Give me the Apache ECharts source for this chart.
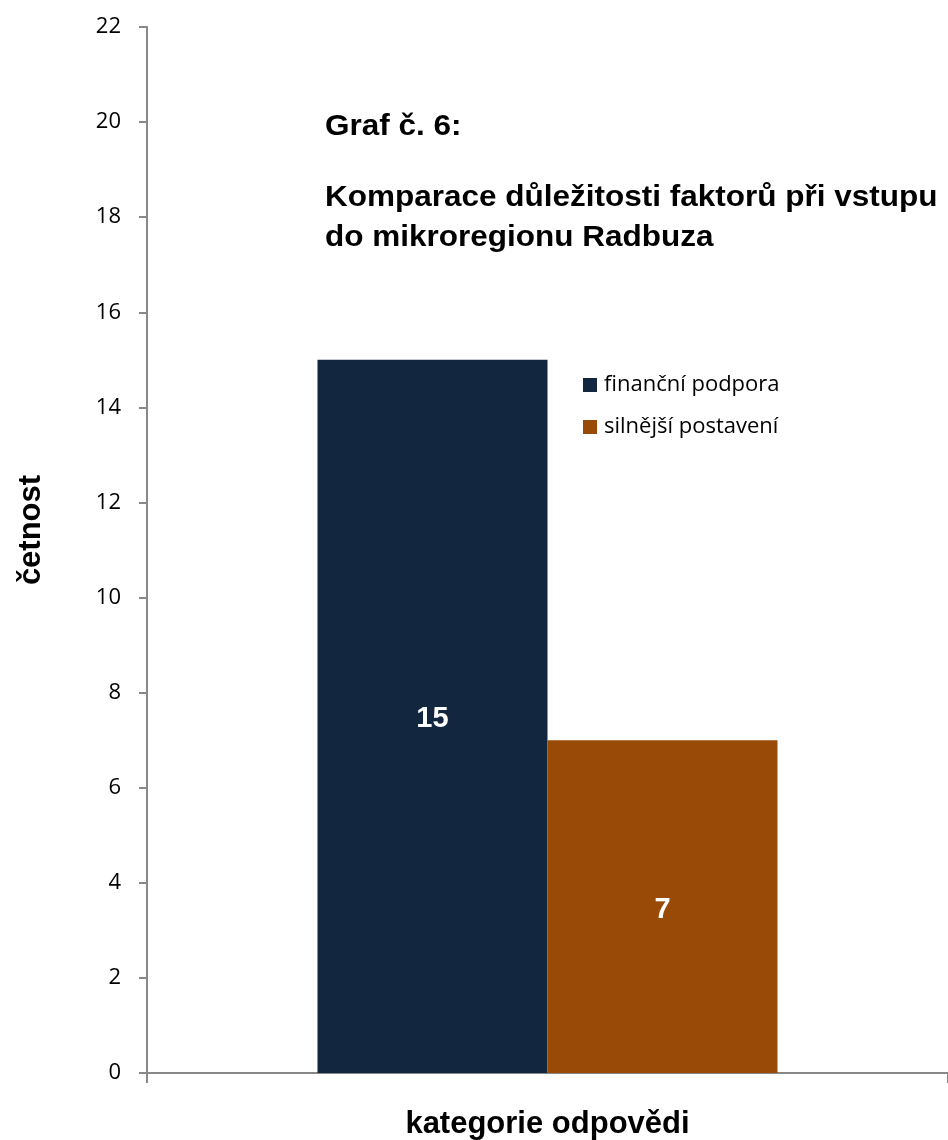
<!DOCTYPE html>
<html><head><meta charset="utf-8">
<script src="https://cdn.jsdelivr.net/npm/echarts@6/dist/echarts.min.js"></script>
<style>html,body{margin:0;padding:0;background:#fff}#c{width:948px;height:1140px}</style>
</head><body><div id="c"></div>
<script>
var categories = ['kategorie'];
var seriesNames = ['finanční podpora', 'silnější postavení'];
var financniPodpora = [15];
var silnejsiPostaveni = [7];
var yTicks = { min: 0, max: 22, interval: 2 };
var titleLines = ['Graf č. 6:', 'Komparace důležitosti faktorů při vstupu', 'do mikroregionu Radbuza'];

var chart = echarts.init(document.getElementById('c'));
var boldFont = '"Liberation Sans", Arial, sans-serif';
var lightFont = '"Open Sans", sans-serif';
var titleY = [127, 198, 238];
var option = {
  animation: false,
  backgroundColor: '#fff',
  graphic: titleLines.map(function (t, i) {
    return {
      type: 'text', x: 325, y: titleY[i], scaleX: 1.05, z: 100,
      style: { text: t, font: 'bold 30px "Liberation Sans", Arial, sans-serif', fill: '#000', align: 'left', verticalAlign: 'middle' }
    };
  }),
  legend: {
    orient: 'vertical', left: 578, top: 369, itemWidth: 14, itemHeight: 14, itemGap: 20,
    icon: 'rect',
    textStyle: { fontFamily: lightFont, fontSize: 22, color: '#000', padding: [0, 0, 0, 2] },
    data: seriesNames
  },
  grid: { left: 147, right: 0, top: 27, bottom: 67, outerBoundsMode: 'none', containLabel: false },
  xAxis: {
    type: 'category', data: categories,
    name: 'kategorie odpovědi', nameLocation: 'middle', nameGap: 36,
    nameTextStyle: { fontFamily: boldFont, fontWeight: 'bold', fontSize: 31, color: '#000' },
    axisLine: { lineStyle: { color: '#888', width: 2 } },
    axisTick: { show: true, alignWithLabel: false, length: 10, lineStyle: { color: '#888', width: 2 } },
    axisLabel: { show: false }
  },
  yAxis: {
    type: 'value', min: yTicks.min, max: yTicks.max, interval: yTicks.interval,
    name: 'četnost', nameLocation: 'middle', nameGap: 100,
    nameTextStyle: { fontFamily: boldFont, fontWeight: 'bold', fontSize: 31, color: '#000', padding: [0, 0, 0, 40] },
    axisLine: { show: true, lineStyle: { color: '#888', width: 2 } },
    axisTick: { show: true, length: 8, lineStyle: { color: '#888', width: 2 } },
    axisLabel: { margin: 26, fontFamily: lightFont, fontSize: 22, color: '#000' },
    splitLine: { show: false }
  },
  series: [
    { name: seriesNames[0], type: 'bar', data: financniPodpora, barWidth: 230, barGap: '0%',
      itemStyle: { color: '#12263F' },
      label: { show: true, position: 'inside', offset: [0, 3], fontFamily: boldFont, fontWeight: 'bold', fontSize: 29, color: '#fff' } },
    { name: seriesNames[1], type: 'bar', data: silnejsiPostaveni, barWidth: 230, barGap: '0%',
      itemStyle: { color: '#9A4A07' },
      label: { show: true, position: 'inside', offset: [0, 3], fontFamily: boldFont, fontWeight: 'bold', fontSize: 29, color: '#fff' } }
  ]
};
chart.setOption(option);
</script></body></html>
